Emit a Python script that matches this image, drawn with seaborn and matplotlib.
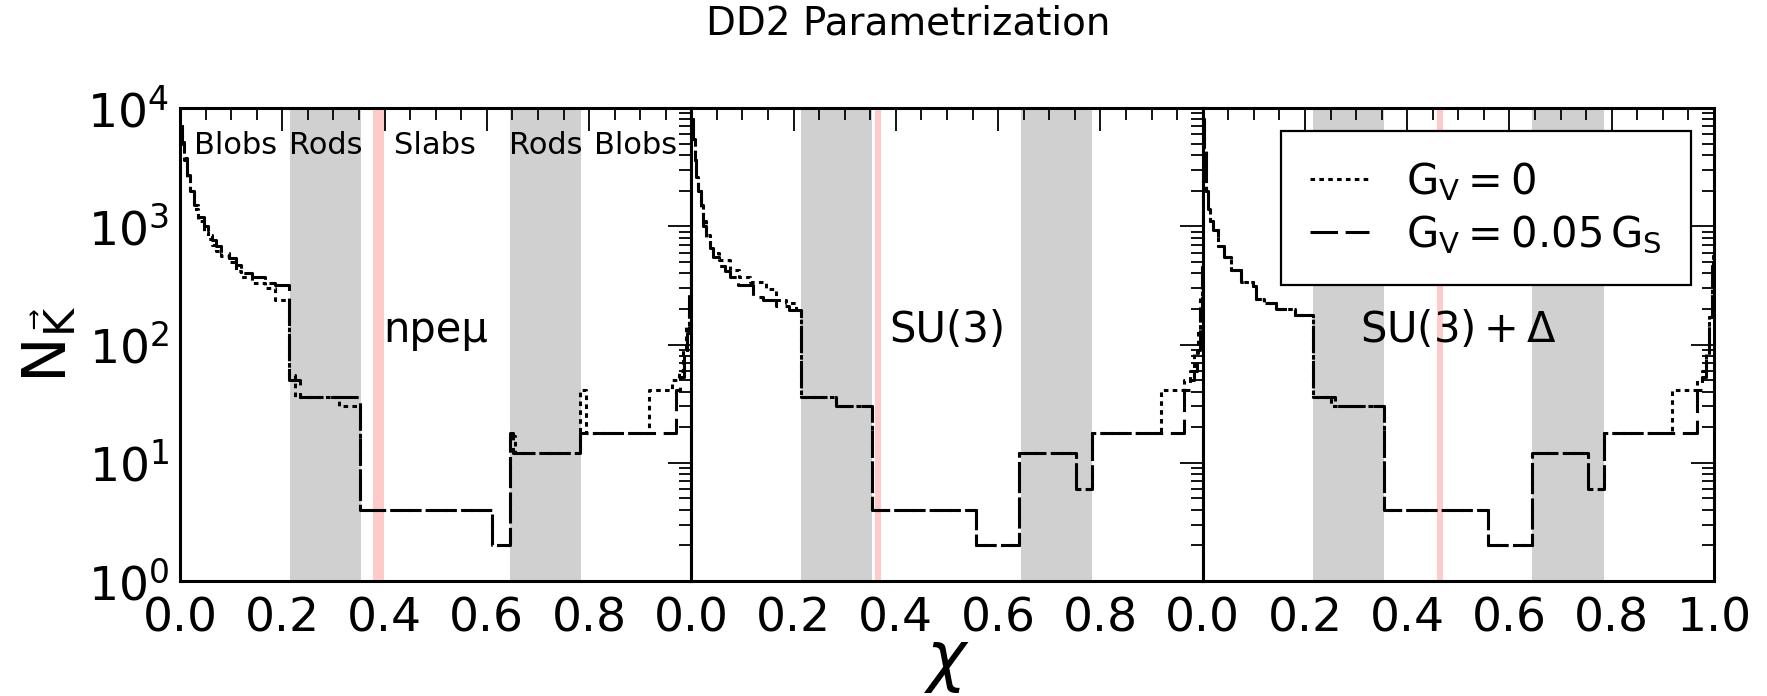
import matplotlib
matplotlib.use("Agg")
import matplotlib.pyplot as plt
import numpy as np
import pandas as pd
import seaborn as sns
from matplotlib.ticker import MultipleLocator, LogLocator, NullFormatter

# ---------------- data ----------------
series_labels = [r"$\mathrm{G_V=0}$", r"$\mathrm{G_V=0.05\,G_S}$"]
panel_labels = ["npeμ", "SU(3)", r"$\mathrm{SU(3)+\Delta}$"]

# npe mu
npe_chi_gv0 = [0.000, 0.004, 0.008, 0.013, 0.020, 0.028, 0.036, 0.046, 0.055, 0.062, 0.070,
               0.080, 0.095, 0.110, 0.120, 0.140, 0.166, 0.186, 0.214, 0.224, 0.310, 0.352,
               0.610, 0.645, 0.655, 0.783, 0.793, 0.917, 0.962, 0.975, 0.984, 0.990, 0.995,
               0.999, 1.000]
npe_n_gv0 = [7000, 5000, 3600, 2600, 1900, 1400, 1100, 900, 780, 700, 620,
             560, 500, 420, 370, 330, 300, 240, 55, 36, 30, 4,
             2, 17, 12, 41, 18, 41, 50, 60, 90, 140, 280,
             500, 500]
npe_chi_gv005 = [0.000, 0.004, 0.008, 0.013, 0.020, 0.028, 0.036, 0.046, 0.055, 0.062, 0.070,
                 0.080, 0.095, 0.110, 0.120, 0.140, 0.166, 0.186, 0.214, 0.235, 0.352, 0.610,
                 0.645, 0.652, 0.783, 0.969, 0.978, 0.985, 0.991, 0.996, 0.999, 1.000]
npe_n_gv005 = [7000, 5200, 3800, 2700, 2000, 1500, 1200, 1000, 850, 760, 680,
               600, 540, 470, 400, 370, 330, 316, 50, 36, 4, 2,
               18, 12, 18, 41, 53, 83, 124, 250, 500, 500]

# SU(3)
su3_chi_gv0 = [0.000, 0.004, 0.0065, 0.010, 0.013, 0.018, 0.023, 0.029, 0.036, 0.042, 0.055,
               0.075, 0.094, 0.114, 0.146, 0.166, 0.186, 0.205, 0.215, 0.283, 0.353, 0.557,
               0.641, 0.752, 0.783, 0.918, 0.964, 0.976, 0.984, 0.990, 0.995, 0.998, 1.000]
su3_n_gv0 = [8000, 5500, 3600, 2600, 2000, 1500, 1100, 850, 700, 600, 515,
             425, 370, 340, 295, 237, 224, 195, 36, 30, 4, 2,
             12, 6, 18, 41, 50, 60, 85, 130, 250, 450, 450]
su3_chi_gv005 = [0.000, 0.004, 0.0065, 0.010, 0.013, 0.018, 0.023, 0.029, 0.036, 0.042, 0.055,
                 0.065, 0.075, 0.091, 0.120, 0.140, 0.166, 0.190, 0.215, 0.283, 0.353, 0.557,
                 0.641, 0.752, 0.783, 0.964, 0.975, 0.983, 0.989, 0.994, 0.998, 1.000]
su3_n_gv005 = [8000, 5500, 3600, 2600, 2000, 1400, 1000, 800, 650, 550, 460,
               420, 370, 316, 250, 240, 210, 195, 36, 30, 4, 2,
               12, 6, 18, 41, 50, 60, 90, 200, 450, 450]

# SU(3)+Delta
su3d_chi_gv0 = [0.000, 0.003, 0.0065, 0.010, 0.015, 0.020, 0.029, 0.042, 0.055, 0.075, 0.098,
                0.104, 0.120, 0.143, 0.180, 0.215, 0.250, 0.354, 0.558, 0.645, 0.753, 0.784,
                0.917, 0.967, 0.976, 0.985, 0.991, 0.996, 0.999, 1.000]
su3d_n_gv0 = [8000, 4500, 2000, 1400, 1100, 930, 680, 550, 430, 340, 310,
              245, 225, 200, 178, 36, 30, 4, 2, 12, 6, 18,
              41, 50, 60, 85, 170, 460, 600, 600]
su3d_chi_gv005 = [0.000, 0.003, 0.0065, 0.010, 0.015, 0.020, 0.029, 0.042, 0.055, 0.075, 0.098,
                  0.104, 0.120, 0.143, 0.180, 0.215, 0.258, 0.354, 0.558, 0.645, 0.753, 0.784,
                  0.967, 0.976, 0.985, 0.991, 0.996, 0.999, 1.000]
su3d_n_gv005 = [8000, 4500, 2000, 1400, 1100, 930, 680, 550, 430, 340, 310,
                245, 225, 200, 178, 36, 30, 4, 2, 12, 6, 18,
                41, 53, 80, 170, 460, 600, 600]

# shaded regions
rod_regions = [(0.215, 0.354), (0.645, 0.784)]
transition_bands = [(0.378, 0.399), (0.359, 0.370), (0.459, 0.470)]
phase_names = ["Blobs", "Rods", "Slabs", "Rods", "Blobs"]
phase_pos = [0.109, 0.285, 0.499, 0.716, 0.890]

xtick_values = [0.0, 0.2, 0.4, 0.6, 0.8, 1.0]
xtick_labels_inner = ["0.0", "0.2", "0.4", "0.6", "0.8", ""]
xtick_labels_last = ["0.0", "0.2", "0.4", "0.6", "0.8", "1.0"]

panels = [
    (npe_chi_gv0, npe_n_gv0, npe_chi_gv005, npe_n_gv005),
    (su3_chi_gv0, su3_n_gv0, su3_chi_gv005, su3_n_gv005),
    (su3d_chi_gv0, su3d_n_gv0, su3d_chi_gv005, su3d_n_gv005),
]

# ---------------- style ----------------
sns.set_theme(style="white")
plt.rcParams["font.family"] = ["DejaVu Sans"]
plt.rcParams["mathtext.fontset"] = "dejavusans"
plt.rcParams["axes.linewidth"] = 2.2
plt.rcParams["text.color"] = "black"
plt.rcParams["axes.labelcolor"] = "black"
plt.rcParams["xtick.color"] = "black"
plt.rcParams["ytick.color"] = "black"

fig, axes = plt.subplots(1, 3, figsize=(17.67, 6.96), dpi=100, sharey=True)
fig.subplots_adjust(left=0.1019, right=0.970, bottom=0.1652, top=0.8448, wspace=0)

dash_map = {series_labels[0]: (1.5, 1.4), series_labels[1]: (9.0, 2.5)}

for i, (ax, (c0, n0, c1, n1)) in enumerate(zip(axes, panels)):
    df = pd.concat([
        pd.DataFrame({"chi": c0, "N": n0, "model": series_labels[0]}),
        pd.DataFrame({"chi": c1, "N": n1, "model": series_labels[1]}),
    ], ignore_index=True)
    for (a, b) in rod_regions:
        ax.axvspan(a, b, color="#d0d0d0", lw=0, zorder=0)
    ta, tb = transition_bands[i]
    ax.axvspan(ta, tb, color="#ffcaca", lw=0, zorder=0)
    sns.lineplot(data=df, x="chi", y="N", style="model", style_order=series_labels,
                 dashes=dash_map, color="black", lw=2.2, drawstyle="steps-post",
                 estimator=None, ax=ax, legend=False, zorder=3)
    ax.set_yscale("log")
    ax.set_ylim(1, 1e4)
    ax.set_xlim(0, 1)
    ax.set_xlabel("")
    ax.set_ylabel("")
    ax.xaxis.set_minor_locator(MultipleLocator(0.05))
    ax.set_xticks(xtick_values)
    ax.set_xticklabels(xtick_labels_last if i == 2 else xtick_labels_inner)
    ax.yaxis.set_major_locator(LogLocator(base=10, numticks=10))
    ax.yaxis.set_minor_locator(LogLocator(base=10, subs=np.arange(2, 10), numticks=20))
    ax.yaxis.set_minor_formatter(NullFormatter())
    ax.tick_params(which="both", direction="in", top=True, right=True, colors="black")
    ax.tick_params(which="major", length=16.5, width=1.3)
    ax.tick_params(which="minor", length=8.5, width=1.3)
    ax.tick_params(axis="x", which="major", labelsize=34, pad=11)
    ax.tick_params(axis="y", which="major", labelsize=34, pad=8)
    for sp in ax.spines.values():
        sp.set_color("black")
        sp.set_linewidth(2.2)
    ax.text(0.5, 0.53, panel_labels[i], transform=ax.transAxes, ha="center",
            va="center", fontsize=30, color="black")

for name, pos in zip(phase_names, phase_pos):
    axes[0].text(pos, 0.92, name, transform=axes[0].transAxes, ha="center",
                 va="center", fontsize=22, color="black")

handles = axes[2].get_lines()[:2]
leg = axes[2].legend(handles, series_labels, loc="upper right", fontsize=30,
                     frameon=True, fancybox=False, framealpha=1, edgecolor="black",
                     handlelength=1.4, handletextpad=0.9, borderpad=0.7,
                     labelspacing=0.25, borderaxespad=0.55)
leg.get_frame().set_linewidth(1.6)
for t in leg.get_texts():
    t.set_color("black")

axes[0].set_ylabel(r"$\mathrm{N}_{\vec{\mathrm{K}}}$", fontsize=44, labelpad=6)
fig.supxlabel(r"$\chi$", x=0.536, y=0.002, va="bottom", fontsize=48)
fig.suptitle("DD2 Parametrization", x=0.514, y=0.966, va="center", fontsize=28)

fig.savefig("out.png", dpi=100)
